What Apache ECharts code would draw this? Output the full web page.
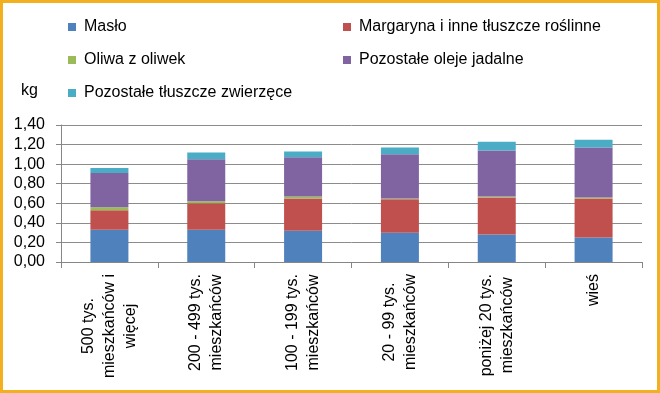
<!DOCTYPE html>
<html>
<head>
<meta charset="utf-8">
<script src="https://cdn.jsdelivr.net/npm/echarts@6/dist/echarts.min.js"></script>
<style>
html,body{margin:0;padding:0;background:#fff;}
#chart{width:660px;height:393px;}
</style>
</head>
<body>
<div id="chart"></div>
<script>
const categories = [
  "500 tys.\nmieszkańców i\nwięcej",
  "200 - 499 tys.\nmieszkańców",
  "100 - 199 tys.\nmieszkańców",
  "20 - 99 tys.\nmieszkańców",
  "poniżej 20 tys.\nmieszkańców",
  "wieś"
];
const maslo = [0.33, 0.33, 0.32, 0.30, 0.28, 0.25];
const margaryna = [0.20, 0.27, 0.33, 0.34, 0.38, 0.40];
const oliwa = [0.03, 0.02, 0.02, 0.01, 0.01, 0.01];
const oleje = [0.35, 0.43, 0.40, 0.45, 0.47, 0.51];
const zwierzece = [0.05, 0.07, 0.06, 0.07, 0.09, 0.08];
const yTicks = [0, 0.2, 0.4, 0.6, 0.8, 1.0, 1.2, 1.4];

const FONT = "Liberation Sans";
const seriesDefs = [
  {name: "Masło", data: maslo, color: "#4F81BD"},
  {name: "Margaryna i inne tłuszcze roślinne", data: margaryna, color: "#C0504D"},
  {name: "Oliwa z oliwek", data: oliwa, color: "#9BBB59"},
  {name: "Pozostałe oleje jadalne", data: oleje, color: "#8064A2"},
  {name: "Pozostałe tłuszcze zwierzęce", data: zwierzece, color: "#4BACC6"}
];

const chart = echarts.init(document.getElementById('chart'), null, {renderer: 'canvas'});
const legendText = {fontFamily: FONT, fontSize: 16, color: '#000', lineHeight: 18, padding: [0, 0, 0, 3]};
chart.setOption({
  animation: false,
  backgroundColor: '#fff',
  title: {text: 'kg', left: 16, top: 78, textStyle: {fontFamily: FONT, fontSize: 16, fontWeight: 'normal', color: '#000'}},
  legend: [
    {orient: 'vertical', left: 63, top: 13, itemWidth: 8, itemHeight: 8, itemGap: 15, icon: 'rect',
     data: ["Masło", "Oliwa z oliwek", "Pozostałe tłuszcze zwierzęce"], textStyle: legendText},
    {orient: 'vertical', left: 338, top: 13, itemWidth: 8, itemHeight: 8, itemGap: 15, icon: 'rect',
     data: ["Margaryna i inne tłuszcze roślinne", "Pozostałe oleje jadalne"], textStyle: legendText}
  ],
  grid: {left: 61, right: 18, top: 125, bottom: 131, containLabel: false},
  xAxis: {
    type: 'category',
    data: categories,
    axisLine: {lineStyle: {color: '#868686'}},
    axisTick: {show: true, length: 6, lineStyle: {color: '#868686'}},
    axisLabel: {
      rotate: 90, margin: 12, interval: 0,
      color: '#000', fontFamily: FONT, fontSize: 16,
      formatter: v => v.split('\n').map(s => '{c|' + s + '}').join('\n'),
      rich: {c: {align: 'center', fontFamily: FONT, fontSize: 16, lineHeight: 21, color: '#000'}}
    }
  },
  yAxis: {
    type: 'value',
    min: yTicks[0], max: yTicks[yTicks.length - 1], interval: 0.2,
    axisLine: {show: true, lineStyle: {color: '#868686'}},
    axisTick: {show: true, length: 5, lineStyle: {color: '#868686'}},
    splitLine: {lineStyle: {color: '#8C8C8C', width: 1}},
    axisLabel: {color: '#000', fontFamily: FONT, fontSize: 16, margin: 16,
      formatter: v => v.toFixed(2).replace('.', ',')}
  },
  series: seriesDefs.map(s => ({
    name: s.name, type: 'bar', stack: 'total', barWidth: 38,
    data: s.data, itemStyle: {color: s.color}
  })),
  graphic: [{
    type: 'rect', shape: {x: 1.5, y: 1.5, width: 657, height: 390},
    style: {fill: null, stroke: '#F2B01E', lineWidth: 3}, silent: true, z: 100
  }]
});
</script>
</body>
</html>
